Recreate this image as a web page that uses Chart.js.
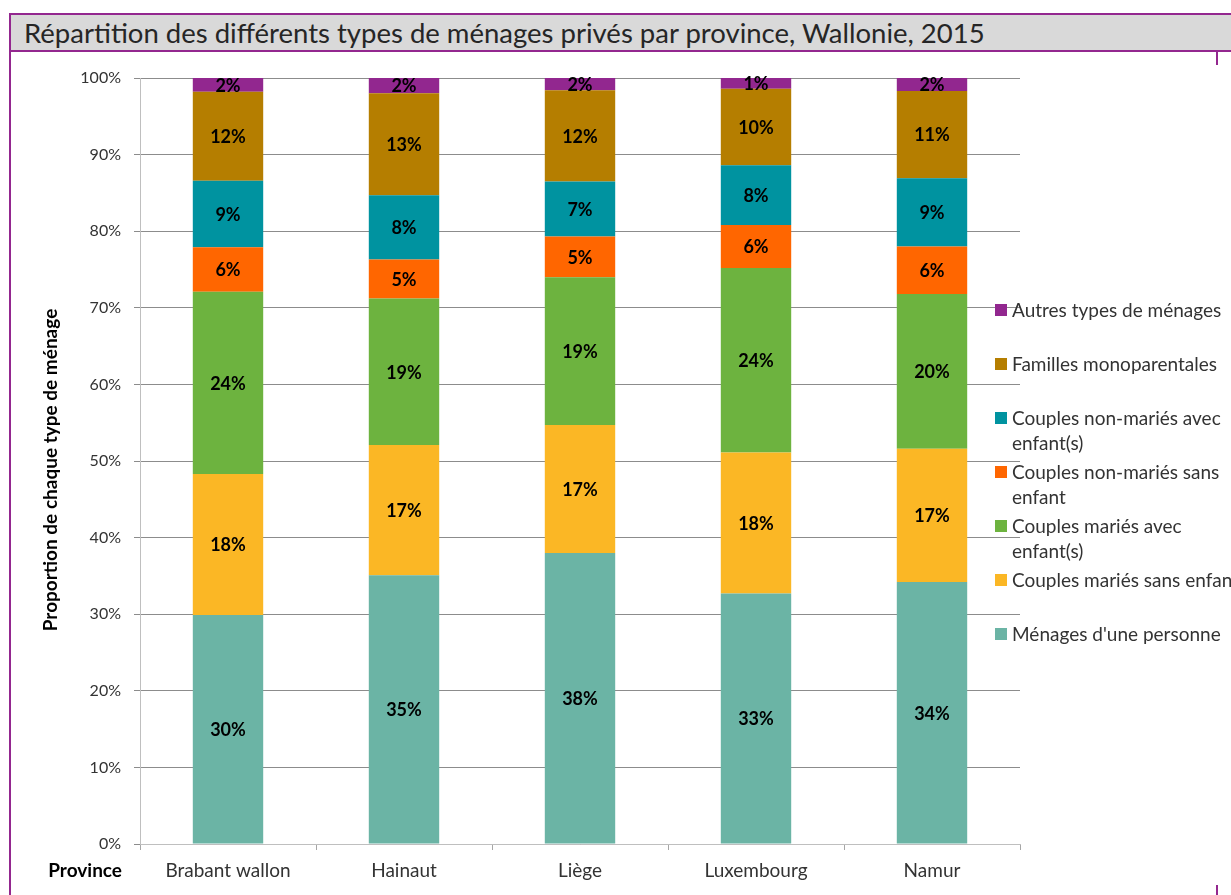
<!DOCTYPE html>
<html>
<head>
<meta charset="utf-8">
<script src="https://cdn.jsdelivr.net/npm/chart.js@4.4.0/dist/chart.umd.min.js"></script>
<style>
  body { margin: 0; background: #fff; width: 1231px; height: 895px; overflow: hidden; position: relative; }
  #titre {
    position: absolute; left: 9px; top: 13px; width: 1207px; height: 35px;
    background: #d9d9d9; border: 2px solid #93278f;
    font-family: Lato, sans-serif; font-size: 27.5px; color: #262626;
    line-height: 36px; padding-left: 13px; box-sizing: content-box; white-space: nowrap;
  }
  .trait { position: absolute; background: #93278f; }
  canvas { position: absolute; left: 0; top: 0; }
</style>
</head>
<body>
<div class="trait" style="left:9px; top:13px; width:2px; height:882px;"></div>
<div class="trait" style="left:1216px; top:13px; width:2px; height:52px;"></div>
<div class="trait" style="left:1216px; top:885px; width:2px; height:10px;"></div>
<div id="titre">Répartition des différents types de ménages privés par province, Wallonie, 2015</div>
<canvas id="graphique" width="1231" height="895"></canvas>
<script>
// --- Données (en %) ---
const provinces = ['Brabant wallon', 'Hainaut', 'Liège', 'Luxembourg', 'Namur'];

const menagesUnePersonne   = [29.9, 35.1, 38.0, 32.7, 34.2];
const mariesSansEnfant     = [18.4, 17.0, 16.7, 18.4, 17.4];
const mariesAvecEnfants    = [23.8, 19.1, 19.3, 24.1, 20.2];
const nonMariesSansEnfant  = [5.8, 5.1, 5.3, 5.6, 6.2];
const nonMariesAvecEnfants = [8.7, 8.4, 7.2, 7.8, 8.9];
const monoparentales       = [11.6, 13.3, 11.9, 10.0, 11.4];
const autresTypes          = [1.8, 2.0, 1.6, 1.4, 1.7];

const nomsSeries = [
    "Ménages d'une personne",
    'Couples mariés sans enfant',
    'Couples mariés avec\nenfant(s)',
    'Couples non-mariés sans\nenfant',
    'Couples non-mariés avec\nenfant(s)',
    'Familles monoparentales',
    'Autres types de ménages'
];
const couleurs = ['#6bb4a5', '#fbb725', '#6db33f', '#ff6600', '#0093a0', '#b57e00', '#92278f'];
const valeurs = [menagesUnePersonne, mariesSansEnfant, mariesAvecEnfants, nonMariesSansEnfant,
                 nonMariesAvecEnfants, monoparentales, autresTypes];

const police = 'Lato, sans-serif';

// étiquettes au milieu de chaque segment
const etiquettes = {
    id: 'etiquettes',
    afterDatasetsDraw(chart) {
        const ctx = chart.ctx;
        ctx.save();
        ctx.font = 'bold 18px ' + police;
        ctx.fillStyle = '#000';
        ctx.textAlign = 'center';
        ctx.textBaseline = 'middle';
        chart.data.datasets.forEach((ds, i) => {
            chart.getDatasetMeta(i).data.forEach((barre, j) => {
                const p = barre.getProps(['x', 'y', 'base'], true);
                ctx.fillText(Math.round(ds.data[j]) + '%', p.x, (p.y + p.base) / 2 + 1);
            });
        });
        ctx.restore();
    }
};

// légende à droite (ordre inversé, comme Excel), titre de l'axe Y et libellé "Province"
const legende = {
    id: 'legende',
    afterDraw(chart) {
        const ctx = chart.ctx;
        ctx.save();
        ctx.font = '19px ' + police;
        ctx.textBaseline = 'middle';
        ctx.textAlign = 'left';
        const sets = chart.data.datasets.slice().reverse();
        sets.forEach((ds, k) => {
            const y = 310 + k * 54;
            ctx.fillStyle = ds.backgroundColor;
            ctx.fillRect(995, y - 6, 12, 12);
            ctx.fillStyle = '#333';
            ds.label.split('\n').forEach((ligne, n) => {
                ctx.fillText(ligne, 1012, y + n * 25 + 1);
            });
        });

        ctx.font = 'bold 19px ' + police;
        ctx.fillStyle = '#000';
        ctx.textAlign = 'right';
        ctx.fillText('Province', 122, 871);

        ctx.translate(51, 470);
        ctx.rotate(-Math.PI / 2);
        ctx.textAlign = 'center';
        ctx.fillText('Proportion de chaque type de ménage', 0, 0);
        ctx.restore();
    }
};

new Chart(document.getElementById('graphique'), {
    type: 'bar',
    data: {
        labels: provinces,
        datasets: valeurs.map((v, i) => ({
            label: nomsSeries[i],
            data: v,
            backgroundColor: couleurs[i],
            borderWidth: 0,
            barPercentage: 0.4,
            categoryPercentage: 1
        }))
    },
    options: {
        responsive: false,
        animation: false,
        devicePixelRatio: 1,
        layout: { padding: { top: 78, right: 211, bottom: 0, left: 0 } },
        plugins: { legend: { display: false }, tooltip: { enabled: false } },
        scales: {
            x: {
                stacked: true,
                afterFit: (s) => { s.height = 51; },
                grid: { drawOnChartArea: false, offset: true, tickLength: 6, color: '#a6a6a6' },
                border: { color: '#bfbfbf', width: 1 },
                ticks: { font: { family: police, size: 19 }, color: '#333', padding: 9, maxRotation: 0 }
            },
            y: {
                stacked: true,
                min: 0,
                max: 100,
                afterFit: (s) => { s.width = 140; },
                grid: { color: '#8c8c8c', tickLength: 6 },
                border: { color: '#bfbfbf', width: 1 },
                ticks: {
                    stepSize: 10,
                    padding: 13,
                    font: { family: police, size: 16 },
                    color: '#333',
                    callback: (v) => v + '%'
                }
            }
        }
    },
    plugins: [etiquettes, legende]
});
</script>
</body>
</html>
